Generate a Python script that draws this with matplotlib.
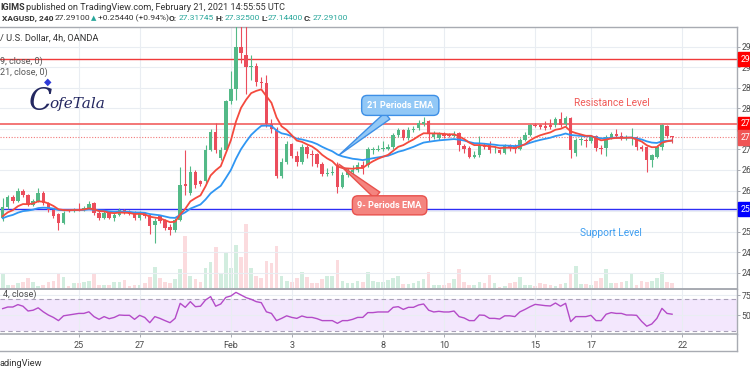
import matplotlib
matplotlib.use("Agg")
import matplotlib.pyplot as plt
import matplotlib.transforms as mtransforms

plt.rcParams['font.family'] = ['Roboto', 'DejaVu Sans']

# ---------------- data ----------------
opens = [25.32, 25.60, 25.84, 25.74, 26.00, 25.88, 25.66, 25.75, 25.95, 25.69,
         25.52, 25.42, 25.22, 25.53, 25.50, 25.54, 25.53, 25.58, 25.69, 25.46,
         25.33, 25.46, 25.33, 25.41, 25.52, 25.48, 25.46, 25.32, 25.46, 25.40,
         25.15, 25.38, 25.28, 25.12, 25.04, 25.28, 26.15, 25.94, 26.46, 26.22,
         26.22, 26.99, 27.42, 26.80, 26.99, 28.18, 28.48, 29.49, 29.30, 29.00,
         29.02, 28.64, 28.62, 27.63, 27.49, 26.36, 26.69, 27.12, 26.84, 26.69,
         27.06, 26.90, 26.88, 26.64, 26.40, 26.43, 26.62, 26.09, 26.38, 26.44,
         26.50, 26.62, 26.62, 26.98, 26.99, 27.02, 27.02, 27.07, 27.35, 27.46,
         27.27, 27.47, 27.51, 27.62, 27.68, 27.30, 27.28, 27.37, 27.37, 27.33,
         27.39, 27.08, 27.04, 26.82, 26.86, 27.11, 27.11, 27.00, 26.99, 26.91,
         27.08, 27.08, 27.01, 27.23, 27.35, 27.59, 27.59, 27.57, 27.59, 27.59,
         27.73, 27.62, 27.76, 26.91, 27.23, 27.23, 27.21, 27.33, 27.04, 27.04,
         27.31, 27.38, 27.33, 27.28, 27.28, 27.30, 27.05, 27.05, 26.75, 26.82,
         27.05, 27.58, 27.31745]
closes = [25.60, 25.84, 25.74, 26.00, 25.88, 25.66, 25.75, 25.95, 25.69, 25.52,
          25.38, 25.22, 25.45, 25.50, 25.55, 25.53, 25.58, 25.68, 25.45, 25.33,
          25.46, 25.33, 25.41, 25.52, 25.45, 25.43, 25.32, 25.46, 25.38, 25.13,
          25.25, 25.26, 25.09, 25.04, 25.28, 26.13, 26.10, 26.46, 26.13, 26.15,
          26.99, 27.42, 26.99, 26.99, 28.18, 28.48, 29.49, 29.35, 29.00, 29.01,
          28.64, 28.61, 27.63, 27.49, 26.36, 26.69, 27.12, 26.84, 26.69, 27.06,
          26.88, 26.86, 26.64, 26.40, 26.43, 26.44, 26.09, 26.38, 26.50, 26.50,
          26.62, 26.55, 27.00, 27.00, 27.02, 27.02, 27.05, 27.35, 27.46, 27.27,
          27.47, 27.50, 27.65, 27.67, 27.38, 27.38, 27.38, 27.33, 27.33, 27.38,
          27.10, 27.00, 26.82, 26.86, 27.11, 27.05, 26.99, 27.01, 26.91, 27.08,
          27.04, 27.00, 27.23, 27.35, 27.59, 27.58, 27.55, 27.53, 27.55, 27.73,
          27.59, 27.76, 26.99, 27.23, 27.23, 27.20, 27.33, 27.03, 27.02, 27.31,
          27.38, 27.33, 27.28, 27.30, 27.30, 27.05, 27.00, 26.74, 26.86, 27.07,
          27.59, 27.33, 27.291]
highs = [25.82, 25.90, 25.88, 26.05, 26.04, 25.92, 25.80, 26.05, 25.98, 25.72,
         25.56, 25.46, 25.50, 25.56, 25.58, 25.70, 25.62, 25.75, 25.72, 25.50,
         25.50, 25.48, 25.45, 25.58, 25.56, 25.52, 25.50, 25.50, 25.48, 25.42,
         25.32, 25.40, 25.30, 25.18, 25.32, 26.57, 26.98, 26.60, 26.50, 26.26,
         27.10, 27.50, 27.65, 27.05, 28.20, 28.90, 30.10, 30.10, 30.10, 29.30,
         29.10, 28.75, 28.82, 27.75, 27.55, 26.80, 27.20, 27.15, 26.95, 27.12,
         27.10, 26.98, 26.92, 26.70, 26.55, 26.60, 26.70, 26.45, 26.55, 26.62,
         26.70, 26.72, 27.05, 27.05, 27.10, 27.20, 27.12, 27.40, 27.52, 27.50,
         27.55, 27.58, 27.72, 27.80, 27.72, 27.44, 27.42, 27.42, 27.40, 27.44,
         27.42, 27.12, 27.08, 26.95, 27.32, 27.15, 27.20, 27.08, 27.02, 27.12,
         27.12, 27.12, 27.28, 27.42, 27.62, 27.65, 27.62, 27.68, 27.75, 27.78,
         27.92, 27.82, 27.80, 27.28, 27.30, 27.28, 27.36, 27.36, 27.10, 27.36,
         27.42, 27.50, 27.42, 27.36, 27.52, 27.33, 27.10, 27.08, 26.90, 27.10,
         27.62, 27.60, 27.325]
lows = [25.25, 25.56, 25.70, 25.72, 25.84, 25.62, 25.62, 25.72, 25.66, 25.48,
        25.34, 25.04, 25.18, 25.47, 25.47, 25.50, 25.50, 25.55, 25.40, 25.28,
        25.30, 25.30, 25.26, 25.38, 25.42, 25.40, 25.28, 25.28, 25.34, 24.95,
        24.72, 25.20, 25.05, 24.92, 25.00, 25.26, 25.90, 25.90, 26.05, 26.10,
        26.18, 26.95, 26.92, 26.75, 26.95, 28.10, 28.20, 29.10, 28.35, 28.70,
        28.55, 28.50, 27.55, 27.40, 26.30, 26.30, 26.65, 26.80, 26.60, 26.65,
        26.80, 26.60, 26.58, 26.36, 26.35, 26.38, 25.95, 26.05, 26.32, 26.35,
        26.45, 26.40, 26.58, 26.90, 26.95, 26.95, 26.98, 27.02, 27.30, 27.22,
        27.24, 27.42, 27.48, 27.58, 27.20, 27.25, 27.22, 27.28, 27.30, 27.30,
        26.95, 26.92, 26.78, 26.78, 26.82, 27.00, 26.92, 26.92, 26.88, 26.88,
        26.95, 26.92, 26.98, 27.20, 27.32, 27.55, 27.50, 27.48, 27.50, 27.55,
        27.55, 27.58, 26.80, 26.85, 27.10, 27.05, 27.15, 26.95, 26.90, 26.85,
        27.25, 27.28, 27.22, 27.22, 27.10, 26.98, 26.95, 26.46, 26.58, 26.78,
        26.98, 27.28, 27.144]
volumes = [1570, 400, 400, 570, 730, 1070, 730, 330, 400, 670,
           800, 1500, 1230, 330, 570, 570, 670, 830, 1570, 400,
           400, 400, 670, 670, 900, 330, 400, 400, 570, 1230,
           2170, 1070, 730, 570, 970, 1970, 5300, 1300, 970, 730,
           2070, 2700, 4200, 1500, 3730, 2070, 4400, 3230, 6500, 2070,
           1300, 1130, 2830, 2570, 4300, 1300, 800, 670, 1070, 1730,
           1230, 570, 570, 970, 1300, 1300, 2900, 800, 570, 570,
           830, 700, 1730, 800, 670, 670, 900, 1070, 1300, 500,
           500, 570, 830, 1000, 1670, 400, 400, 400, 570, 970,
           1970, 730, 400, 400, 670, 570, 1400, 570, 230, 300,
           570, 670, 1230, 400, 400, 300, 570, 470, 400, 300,
           470, 570, 1500, 2300, 500, 500, 400, 800, 1070, 1970,
           570, 570, 670, 800, 1630, 400, 830, 670, 830, 1070,
           1730, 670, 570]
rsi = [58, 60, 60, 63, 61, 55, 56, 59, 54, 50,
       47, 43, 49, 50, 51, 52, 52, 54, 48, 44.6,
       48, 45.4, 47, 50, 49.6, 49.6, 44.6, 49.6, 47, 40.4,
       48, 45.8, 43, 40.4, 45.8, 64.6, 59.6, 66.7, 60.4, 61,
       68.8, 73, 61, 63.8, 72, 73.8, 78.3, 75, 71.7, 69.6,
       66.7, 65.4, 54, 52, 43, 45.8, 49, 47, 45.8, 48.8,
       47, 47, 45.4, 43, 43, 43, 39.6, 43, 43, 44.6,
       47, 47, 53, 53, 53.8, 53.8, 53.8, 59.6, 60.4, 57,
       59.6, 59.6, 62.5, 63.8, 56, 53.8, 54.6, 53.8, 53.8, 55,
       48, 46.3, 43, 43, 50, 49.6, 45.8, 45.8, 45, 49,
       49, 48, 54, 57, 60.4, 63.3, 62.5, 61.7, 61.3, 65,
       61, 64.6, 41.7, 48, 48, 48, 49.6, 43, 43, 51,
       53, 52, 52, 50, 50, 49.6, 42, 36, 38.8, 45.8,
       58.3, 52, 51]
ema9_seed, ema21_seed = 25.32, 25.30

tick_pos = [15, 27, 45, 57, 75, 87, 105, 116, 134]
tick_labels = ["25", "27", "Feb", "3", "8", "10", "15", "17", "22"]
price_ticks = [24.0, 24.5, 25.0, 25.5, 26.0, 26.5, 27.0, 27.5, 28.0, 28.5, 29.0, 29.5]
resistance_hi, resistance, last_price, support = 29.19, 27.62, 27.291, 25.55

# ---------------- helpers ----------------
W, H = 750, 375
def fx(px): return px / W
def fy(py): return 1 - py / H

def ema(vals, span, seed):
    a = 2.0 / (span + 1)
    out, prev = [], seed
    for v in vals:
        prev = prev + a * (v - prev)
        out.append(prev)
    return out

UP, DN = "#53b987", "#eb4d5c"
GRID = "#e9edf2"
SPINE = "#a8abb2"
TXT = "#4a4a4a"

n = len(closes)
idx = list(range(n))
xlim = (-0.53, 144.8)

fig = plt.figure(figsize=(7.5, 3.75), dpi=100)
fig.patch.set_facecolor("white")

ax = fig.add_axes([0, fy(289), fx(737), (289 - 27.3) / H])
axv = ax.twinx()
axr = fig.add_axes([0, fy(334.3), fx(737), (334.3 - 289) / H])
axd = fig.add_axes([0, fy(350.7), fx(737), (350.7 - 334.3) / H])

# ---- volume ----
vcol = [(0.33, 0.73, 0.53, 0.26) if c >= o else (0.92, 0.30, 0.36, 0.20) for o, c in zip(opens, closes)]
axv.bar(idx, volumes, width=0.72, color=vcol, linewidth=0)
axv.set_ylim(0, 26170)
axv.set_yticks([])
for s in axv.spines.values():
    s.set_visible(False)
axv.set_zorder(1)
axv.patch.set_visible(True)
axv.patch.set_facecolor("white")
ax.set_zorder(2)
ax.patch.set_visible(False)

# ---- main price panel ----
ax.set_xlim(*xlim)
axv.set_xlim(*xlim)
ax.set_ylim(23.605, 29.97)
ax.set_xticks(tick_pos)
ax.tick_params(axis="x", length=0, labelbottom=False)
ax.yaxis.tick_right()
ax.set_yticks(price_ticks)
# the 25.500 label sits under the blue support label box in the reference
ax.set_yticklabels(["" if p == 25.5 else f"{p:.3f}" for p in price_ticks])
ax.tick_params(axis="y", length=2.2, width=0.7, color=SPINE, labelsize=6.3, labelcolor=TXT, pad=1.0)
ax.grid(True, color=GRID, lw=0.8)
ax.set_axisbelow(True)
ax.spines["left"].set_visible(False)
for side in ["top", "right", "bottom"]:
    ax.spines[side].set_color(SPINE)
ax.spines["top"].set_linewidth(1.0)
ax.spines["right"].set_linewidth(1.0)
ax.spines["bottom"].set_linewidth(1.4)

cols = [UP if c >= o else DN for o, c in zip(opens, closes)]
ax.vlines(idx, lows, highs, colors=cols, lw=0.8, zorder=3)
bottoms = [min(o, c) for o, c in zip(opens, closes)]
heights = [max(abs(c - o), 0.018) for o, c in zip(opens, closes)]
ax.bar(idx, heights, bottom=bottoms, width=0.68, color=cols, linewidth=0, zorder=4)

e9 = ema(closes, 9, ema9_seed)
e21 = ema(closes, 21, ema21_seed)
ax.plot(idx, e21, color="#2f96f3", lw=1.3, zorder=5)
ax.plot(idx, e9, color="#f44a3e", lw=1.3, zorder=6)

# horizontal levels
ax.axhline(resistance_hi, color="#f03a3a", lw=1.0, zorder=2)
ax.axhline(resistance, color="#f26b6b", lw=1.3, zorder=2)
ax.axhline(last_price, color="#f27a7a", lw=0.8, ls=(0, (1, 1.5)), zorder=2)
ax.axhline(support, color="#2d2df5", lw=1.0, zorder=2)

tr = mtransforms.blended_transform_factory(ax.transAxes, ax.transData)
for val, col in [(resistance_hi, "#ff0000"), (resistance, "#ff0000"),
                 (last_price, "#f05555"), (support, "#0000ff")]:
    ax.text(1.0055, val, f"{val:.3f}", transform=tr, ha="left", va="center", fontsize=6.3,
            color="white", clip_on=False, zorder=10,
            bbox=dict(boxstyle="square,pad=0.3", fc=col, ec=col))

# callouts
ax.annotate("21 Periods EMA", xy=(66.3, 26.86), xytext=(78.4, 28.07), textcoords="data",
            ha="center", va="center", color="white", fontsize=6.6, fontweight="bold", zorder=9,
            bbox=dict(boxstyle="round,pad=0.6,rounding_size=0.6", fc="#92c8f6", ec="#3d8fe6", lw=1.0),
            arrowprops=dict(arrowstyle="wedge,tail_width=0.9,shrink_factor=0.5",
                            fc="#92c8f6", ec="#3d8fe6", lw=1.0, shrinkA=0, shrinkB=0))
ax.annotate("9- Periods EMA", xy=(66.3, 26.64), xytext=(76.3, 25.64), textcoords="data",
            ha="center", va="center", color="white", fontsize=6.6, fontweight="bold", zorder=9,
            bbox=dict(boxstyle="round,pad=0.55,rounding_size=0.6", fc="#f4847f", ec="#e8514c", lw=1.0),
            arrowprops=dict(arrowstyle="wedge,tail_width=0.9,shrink_factor=0.5",
                            fc="#f4847f", ec="#e8514c", lw=1.0, shrinkA=0, shrinkB=0))

ax.text(120.2, 28.14, "Resistance Level", color="#f05a57", fontsize=7.3, ha="center", va="center", zorder=9)
ax.text(119.9, 24.96, "Support Level", color="#3d9df0", fontsize=7.3, ha="center", va="center", zorder=9)

# ---- RSI panel ----
axr.set_xlim(*xlim)
axr.set_ylim(25.9, 82.5)
axr.axhspan(30, 70, color="#f3e7fd", zorder=0, lw=0)
axr.axhline(70, color="#a9a1b8", lw=0.8, ls=(0, (4, 3)), zorder=1)
axr.axhline(30, color="#a9a1b8", lw=0.8, ls=(0, (4, 3)), zorder=1)
axr.plot(idx, rsi, color="#b44bc8", lw=1.0, zorder=3)
axr.yaxis.tick_right()
axr.set_yticks([50, 75])
axr.set_yticklabels(["50.00", "75.00"])
axr.tick_params(axis="y", length=2.2, width=0.7, color=SPINE, labelsize=6.3, labelcolor=TXT, pad=1.0)
axr.set_xticks(tick_pos)
axr.set_xticklabels(tick_labels)
axr.tick_params(axis="x", length=2.5, width=0.7, color=SPINE, labelsize=6.5, labelcolor=TXT, pad=2.5)
axr.grid(True, color=GRID, lw=0.8)
axr.set_axisbelow(True)
axr.spines["left"].set_visible(False)
for side in ["top", "right", "bottom"]:
    axr.spines[side].set_color(SPINE)
axr.spines["top"].set_linewidth(1.4)
axr.spines["bottom"].set_linewidth(1.2)
axr.spines["right"].set_linewidth(1.0)
axr.text(0.0, 76.5, "4, close)", fontsize=6.5, color=TXT, ha="left", va="center")

# ---- date strip ----
axd.set_xlim(*xlim)
axd.set_xticks([])
axd.set_yticks([])
axd.patch.set_visible(False)
for side in ["top", "left"]:
    axd.spines[side].set_visible(False)
for side in ["right", "bottom"]:
    axd.spines[side].set_color(SPINE)
    axd.spines[side].set_linewidth(1.0)

# ---- header / labels ----
fig.text(fx(0), fy(7.5), "IGIMS", fontsize=6.5, fontweight="bold", color="#333333", va="center")
fig.text(fx(25.5), fy(7.5), "published on TradingView.com, February 21, 2021 14:55:55 UTC",
         fontsize=6.6, color="#333333", va="center")
y2 = fy(18.3)
fig.text(fx(2), y2, "XAGUSD, 240", fontsize=6.0, fontweight="bold", color="#333333", va="center")
fig.text(fx(55), y2, "27.29100", fontsize=6.1, color="#333333", va="center")
fig.text(fx(91), y2, "▲", fontsize=5.0, color="#26a69a", va="center")
fig.text(fx(98), y2, "+0.25440 (+0.94%)", fontsize=6.1, color="#333333", va="center")
for lab, num, x0, xn in [("O:", "27.31745", 169, 178.5), ("H:", "27.32500", 215.5, 225),
                         ("L:", "27.14400", 261, 268), ("C:", "27.29100", 303.5, 312.5)]:
    fig.text(fx(x0), y2, lab, fontsize=6.0, fontweight="bold", color="#333333", va="center")
    fig.text(fx(xn), y2, num, fontsize=6.0, color="#26a69a", va="center")

fig.text(fx(0), fy(38), "/ U.S. Dollar, 4h, OANDA", fontsize=6.7, color="#333333", va="center")
fig.text(fx(0), fy(61.5), "9, close, 0)", fontsize=6.5, color="#555555", va="center")
fig.text(fx(0), fy(72), "21, close, 0)", fontsize=6.5, color="#555555", va="center")
fig.text(fx(0), fy(363), "adingView", fontsize=6.7, color="#333333", va="center")

# logo
fig.text(fx(41), fy(101), "C", fontsize=22, family="DejaVu Serif", style="italic",
         color="#232760", ha="center", va="center")
fig.text(fx(48), fy(82), "◆", fontsize=7, family="DejaVu Sans", color="#2f3bd8", ha="center", va="center")
fig.text(fx(77), fy(104), "ofeTala", fontsize=11, family="DejaVu Serif", style="italic",
         color="#232760", ha="center", va="center")

fig.savefig("out.png", dpi=100)
